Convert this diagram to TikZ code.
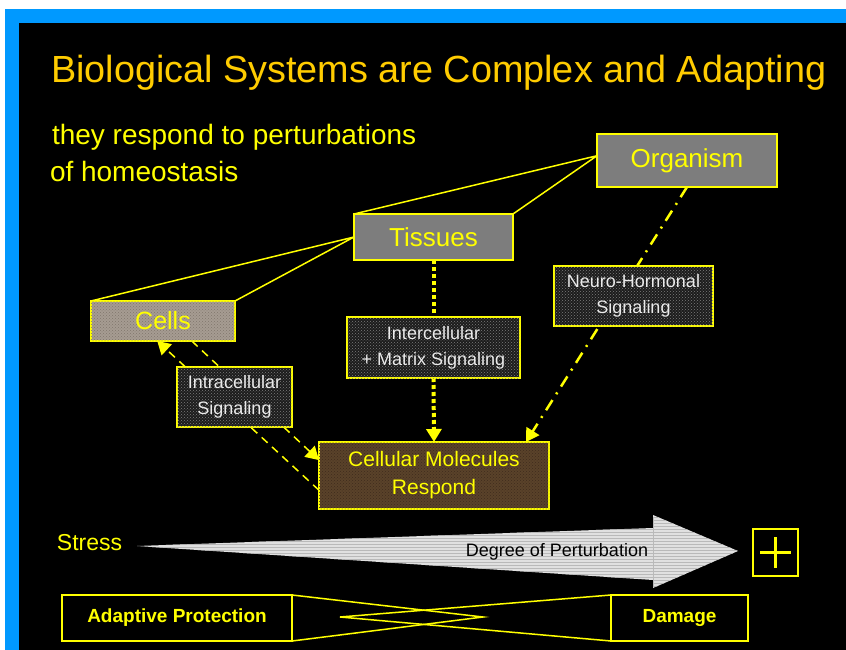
\documentclass[tikz,border=0pt]{standalone}
\usepackage{fontspec}
\setmainfont{Liberation Sans}
\usetikzlibrary{arrows.meta,calc,patterns}
\definecolor{ylw}{RGB}{255,255,0}
\definecolor{gold}{RGB}{255,204,0}
\definecolor{frameblue}{RGB}{0,153,255}
\definecolor{boxgray}{RGB}{125,125,125}
\definecolor{cellfill}{RGB}{166,156,146}
\definecolor{cellgrain}{RGB}{128,118,108}
\definecolor{molfill}{RGB}{90,66,42}
\definecolor{molgrain}{RGB}{62,44,28}
\definecolor{sigfill}{RGB}{28,28,28}
\definecolor{sigdot}{RGB}{125,125,125}
\definecolor{sigtext}{RGB}{235,235,235}
\definecolor{arrowfill}{RGB}{224,224,224}
\definecolor{arrowline}{RGB}{185,185,185}
\pgfdeclarelayer{bottom}
\pgfdeclarelayer{lines}
\pgfsetlayers{bottom,lines,main}
\begin{document}
\begin{tikzpicture}[x=1pt,y=-1pt,
  box/.style={draw=ylw,line width=2pt,inner sep=0pt,outer sep=0pt,align=center,text=ylw},
  levelbox/.style={box,fill=boxgray,font=\fontsize{26}{30}\selectfont},
  sigbox/.style={box,fill=sigfill,postaction={pattern=crosshatch dots,pattern color=sigdot},text=sigtext,font=\fontsize{18}{26}\selectfont},
  outbox/.style={box,font=\bfseries\fontsize{19}{22}\selectfont},
  link/.style={draw=ylw,line width=1.5pt},
  tip/.style={-{Triangle[width=15pt,length=13pt]}},
  dotlink/.style={draw=ylw,line width=4pt,dash pattern=on 4pt off 3pt},
  dashlink/.style={draw=ylw,line width=1.5pt,dash pattern=on 8pt off 6pt},
  dashdotlink/.style={draw=ylw,line width=2.5pt,dash pattern=on 12pt off 7pt on 2pt off 7pt},
  plaintext/.style={inner sep=0pt,outer sep=0pt,anchor=base west,text=ylw},
]
\useasboundingbox (0,0) rectangle (846,650);
\begin{pgfonlayer}{bottom}
\fill[white] (0,0) rectangle (846,650);
\fill[frameblue] (5,9) rectangle (846,650);
\fill[black] (19,23) rectangle (846,650);
\end{pgfonlayer}

% texts
\node[plaintext,text=gold,font=\fontsize{37.8}{40}\selectfont] (title) at (51,83) {Biological Systems are Complex and Adapting};
\node[plaintext,font=\fontsize{28}{30}\selectfont] (intro1) at (52,145) {they respond to perturbations};
\node[plaintext,font=\fontsize{28}{30}\selectfont] (intro2) at (50,182) {of homeostasis};

% level boxes
\node[levelbox,minimum width=180pt,minimum height=53pt] (org) at (687,160.5) {Organism};
\node[levelbox,minimum width=159pt,minimum height=46pt] (tis) at (433.5,237) {Tissues};
\node[box,fill=cellfill,postaction={pattern=crosshatch dots,pattern color=cellgrain},
      font=\fontsize{25}{30}\selectfont,minimum width=144pt,minimum height=40pt] (cells) at (163,321) {Cells};

% signaling boxes
\node[sigbox,minimum width=173pt,minimum height=61pt] (inter) at (433.5,347.5) {Intercellular\\+ Matrix Signaling};
\node[sigbox,minimum width=115pt,minimum height=60pt] (intra) at (234.5,397) {Intracellular\\Signaling};
\node[sigbox,minimum width=159pt,minimum height=60pt] (neuro) at (633.5,296) {Neuro-Hormonal\\Signaling};

% responding molecules
\node[box,fill=molfill,postaction={pattern=crosshatch dots,pattern color=molgrain},
      font=\fontsize{21}{28}\selectfont,minimum width=230pt,minimum height=67pt] (mol) at (434,475.5) {Cellular Molecules\\Respond};

% stress arrow
\node[plaintext,anchor=center,font=\fontsize{23}{26}\selectfont] (stress) at (89.5,543) {Stress};
\path[fill=arrowfill,postaction={pattern=horizontal lines,pattern color=arrowline}]
  (137,546) -- (653,528) -- (653,515) -- (738,551) -- (653,588) -- (653,580) -- cycle;
\draw[arrowline,line width=0.6pt] (653,517) -- (653,586);
\node[inner sep=0pt,text=black,font=\fontsize{18}{20}\selectfont] (degree) at (557,552) {Degree of Perturbation};

\node[box,minimum width=45pt,minimum height=47pt] (plus) at (775.5,552.5) {};
\draw[ylw,line width=3pt] ($(plus.center)+(-15.5,0)$) -- ($(plus.center)+(15.5,0)$);
\draw[ylw,line width=3pt] ($(plus.center)+(0,-15.5)$) -- ($(plus.center)+(0,15.5)$);

% outcome boxes
\node[outbox,minimum width=230pt,minimum height=46pt] (adapt) at (177,618) {Adaptive Protection};
\node[outbox,minimum width=137pt,minimum height=46pt] (dam) at (679.5,618) {Damage};

\coordinate (orgL) at ($(org.north west)!0.41!(org.south west)$);
\coordinate (wA) at (483,617);
\coordinate (wD) at (340,617);

\begin{pgfonlayer}{lines}
\draw[link] (tis.north west) -- (orgL) -- (tis.north east);
\draw[link] (cells.north west) -- (tis.west) -- (cells.north east);
\draw[dotlink] (tis.south) -- (inter.north);
\draw[dotlink,tip] (inter.south) -- (mol.north);
\draw[dashdotlink,tip] (org.south) -- ($(mol.north west)!0.9!(mol.north east)$);
\draw[dashlink,tip] ($(mol.north west)!0.72!(mol.south west)$) -- ($(cells.south west)!0.46!(cells.south east)$);
\draw[dashlink,tip] ($(cells.south west)!0.70!(cells.south east)$) -- ($(mol.north west)!0.27!(mol.south west)$);
\draw[link] (adapt.north east) -- (wA) -- (adapt.south east);
\draw[link] (dam.north west) -- (wD) -- (dam.south west);
\end{pgfonlayer}
\end{tikzpicture}
\end{document}
